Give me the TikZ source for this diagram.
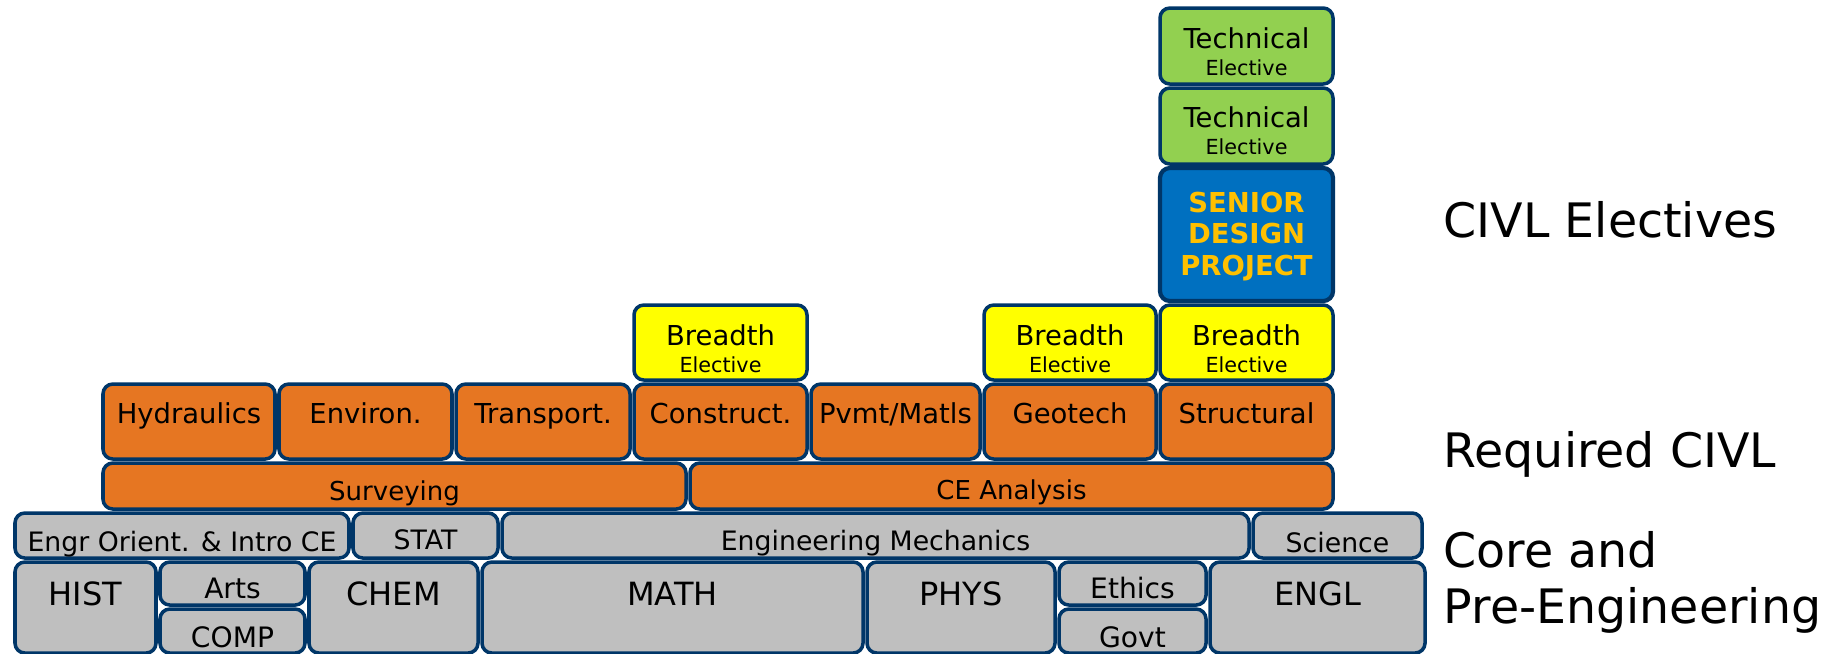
\documentclass[tikz,border=0pt]{standalone}
\usepackage{fontspec}
\setmainfont{DejaVu Sans}
\usepackage{tikz}
\definecolor{edgeblue}{RGB}{0,54,104}
\definecolor{coregray}{RGB}{191,191,191}
\definecolor{reqorange}{RGB}{230,118,34}
\definecolor{brdyellow}{RGB}{255,255,0}
\definecolor{techgreen}{RGB}{146,208,80}
\definecolor{sdpblue}{RGB}{0,112,192}
\definecolor{sdpgold}{RGB}{255,192,0}
\tikzset{
    box/.style={draw=edgeblue, line width=1pt, rounded corners=2.8pt},
    core/.style={box, fill=coregray},
    core text/.style={font=\fontsize{7.6}{9}\selectfont},
    big/.style={core},
    big text/.style={font=\fontsize{9.1}{11}\selectfont},
    small/.style={core},
    small text/.style={font=\fontsize{8}{10}\selectfont},
    req/.style={box, fill=reqorange},
    req text/.style={font=\fontsize{7.8}{9}\selectfont},
    ana/.style={req},
    ana text/.style={font=\fontsize{7.4}{9}\selectfont},
    brd/.style={box, fill=brdyellow},
    brd text/.style={font=\fontsize{7.8}{9}\selectfont},
    tech/.style={box, fill=techgreen},
    tech text/.style={font=\fontsize{7.8}{9}\selectfont},
    sub text/.style={font=\fontsize{5.9}{7}\selectfont},
    sdp/.style={box, fill=sdpblue, line width=1.2pt},
    level/.style={font=\fontsize{13.5}{16}\selectfont, anchor=base west, inner sep=0pt}
}
% name, style, x1, y1, x2, y2, baseline, text
\newcommand{\course}[8] {
	\draw[#2] (#3+2,#4+2) rectangle (#5-2,#6-2);
	\node[anchor=base, #2 text, inner sep=0pt] (#1) at ({(#3+#5)/2},#7) {#8};
}
% name, style, x1, y1, x2, y2, baseline, text, small text
\newcommand{\elective}[9] {
	\course{#1}{#2}{#3}{#4}{#5}{#6}{#7}{#8}
	\node[anchor=base, sub text, inner sep=0pt] (#1-sub) at ({(#3+#5)/2},#7+27) {#9};
}

\begin{document}
\begin{tikzpicture}[x=0.01cm, y=-0.01cm]
	\useasboundingbox (0,0) rectangle (1837,653);

	% Bottom row
	\course{hist}{big}{13}{560}{158}{655}{605}{HIST}
	\course{arts}{small}{158}{560}{307}{607}{598}{Arts}
	\course{comp}{small}{158}{607}{307}{655}{647}{COMP}
	\course{chem}{big}{307}{560}{480}{655}{605}{CHEM}
	\course{math}{big}{480}{560}{865}{655}{605}{MATH}
	\course{phys}{big}{865}{560}{1057}{655}{605}{PHYS}
	\course{ethics}{small}{1057}{560}{1208}{607}{598}{Ethics}
	\course{govt}{small}{1057}{607}{1208}{655}{647}{Govt}
	\course{engl}{big}{1208}{560}{1427}{655}{605}{ENGL}

	% Core row
	\course{intro}{core}{13}{511}{351}{560}{551}{Engr Orient. \& Intro CE}
	\course{stat}{core}{351}{511}{500}{560}{549}{STAT}
	\course{mech}{core}{500}{511}{1251}{560}{550}{Engineering Mechanics}
	\course{sci}{core}{1251}{511}{1424}{560}{552}{Science}

	% Analysis row
	\course{surv}{ana}{101}{461}{688}{511}{500}{Surveying}
	\course{cean}{ana}{688}{461}{1335}{511}{499}{CE Analysis}

	% Required CIVL
	\course{hydr}{req}{101}{382}{277}{461}{423}{Hydraulics}
	\course{envr}{req}{277}{382}{454}{461}{423}{Environ.}
	\course{trans}{req}{454}{382}{632}{461}{423}{Transport.}
	\course{const}{req}{632}{382}{809}{461}{423}{Construct.}
	\course{pvmt}{req}{809}{382}{982}{461}{423}{Pvmt/Matls}
	\course{geot}{req}{982}{382}{1158}{461}{423}{Geotech}
	\course{struc}{req}{1158}{382}{1335}{461}{423}{Structural}

	% Breadth electives
	\elective{brdA}{brd}{632}{303}{809}{382}{345}{Breadth}{Elective}
	\elective{brdB}{brd}{982}{303}{1158}{382}{345}{Breadth}{Elective}
	\elective{brdC}{brd}{1158}{303}{1335}{382}{345}{Breadth}{Elective}

	% Senior design and technical electives
	\draw[sdp] (1160,168) rectangle (1333,301);
	\node[font=\bfseries\fontsize{7.8}{9}\selectfont, text=sdpgold, align=center, inner sep=0pt] (sdp) at (1246.5,236.5) {SENIOR\\DESIGN\\PROJECT};
	\elective{techB}{tech}{1158}{86}{1335}{166}{127}{Technical}{Elective}
	\elective{techA}{tech}{1158}{6}{1335}{86}{48}{Technical}{Elective}

	% Level labels
	\node[level] (lvlE) at (1443,237) {CIVL Electives};
	\node[level] (lvlR) at (1443,467) {Required CIVL};
	\node[level] (lvlC) at (1443,567) {Core and};
	\node[level] (lvlP) at (1443,623) {Pre-Engineering};
\end{tikzpicture}
\end{document}
